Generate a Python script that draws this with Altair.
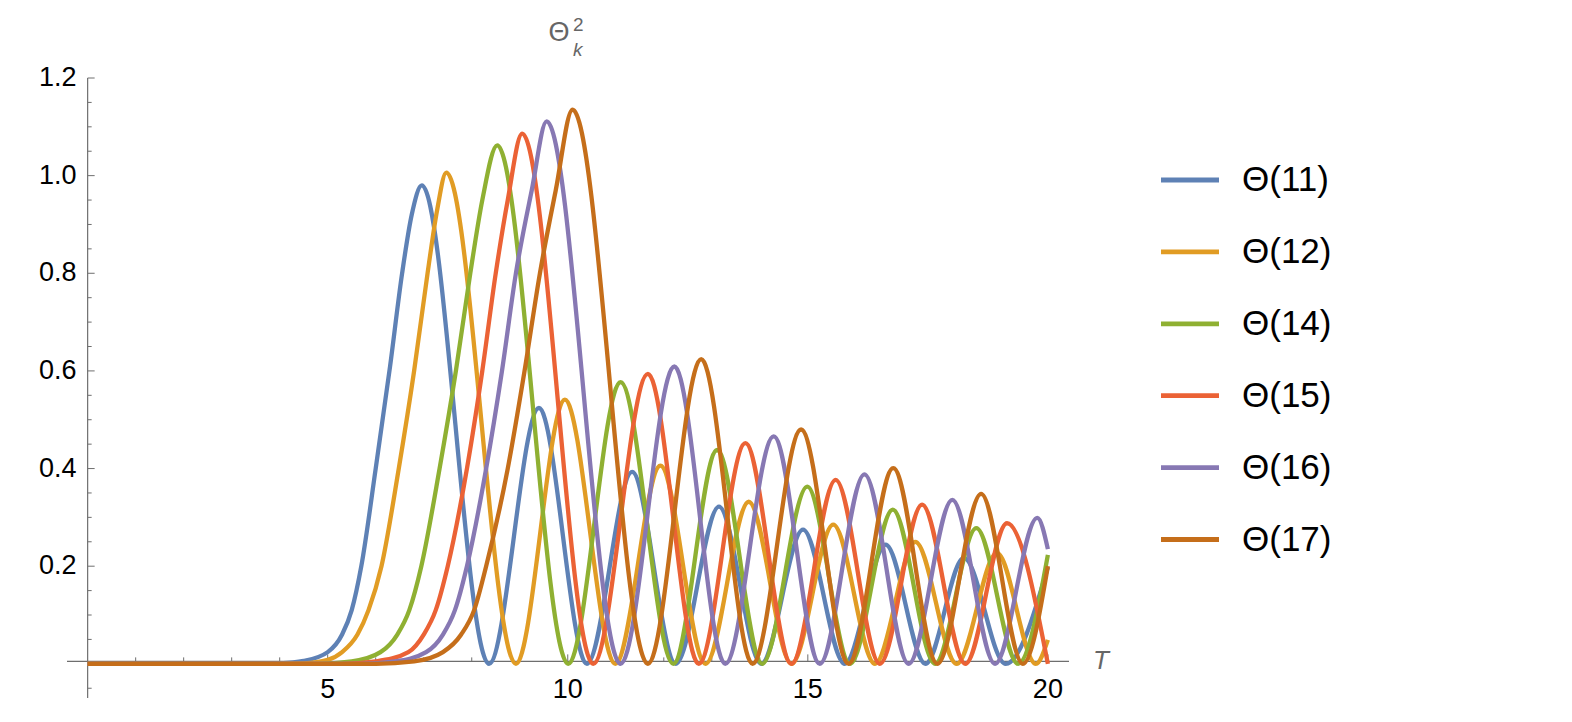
import altair as alt
import pandas as pd

FONT = "Liberation Sans"
AXIS_GRAY = "#6e6e6e"
TITLE_GRAY = "#666666"

NAMES = ["Θ(11)", "Θ(12)", "Θ(14)", "Θ(15)", "Θ(16)", "Θ(17)"]
COLORS = ["#5e81b5", "#e19c24", "#8fb032", "#eb6235", "#8778b3", "#c56e1a"]

# Θ(11)
T11 = [0, 3.5, 4.0, 4.5, 5.0, 5.3, 5.5, 5.7, 6.0, 6.3, 6.55, 6.75, 6.96, 8.36, 9.40, 10.40,
       11.34, 12.25, 13.15, 14.03, 14.90, 15.77, 16.62, 17.45, 18.25, 19.12, 20.0]
V11 = [0, 0, 0.001, 0.006, 0.024, 0.06, 0.11, 0.2, 0.4, 0.61, 0.8, 0.92, 0.98, 0, 0.524, 0,
       0.393, 0, 0.322, 0, 0.275, 0, 0.244, 0, 0.217, 0, 0.198]
# Θ(12)
T12 = [0, 4.0, 4.5, 5.0, 5.3, 5.62, 5.85, 6.12, 6.48, 6.8, 7.08, 7.28, 7.47, 8.92, 9.94,
       10.99, 11.93, 12.87, 13.77, 14.66, 15.53, 16.40, 17.24, 18.10, 18.94, 19.75, 20.0]
V12 = [0, 0, 0.001, 0.008, 0.024, 0.06, 0.11, 0.2, 0.4, 0.6, 0.8, 0.93, 1.006, 0, 0.541,
       0, 0.406, 0, 0.332, 0, 0.285, 0, 0.25, 0, 0.227, 0, 0.049]
# Θ(14)
T14 = [0, 4.8, 5.5, 6.1, 6.45, 6.7, 6.95, 7.33, 7.67, 7.97, 8.22, 8.53, 10.01, 11.10, 12.20,
       13.11, 14.05, 14.99, 15.88, 16.77, 17.65, 18.51, 19.38, 20.0]
V14 = [0, 0, 0.005, 0.024, 0.06, 0.11, 0.2, 0.4, 0.6, 0.8, 0.95, 1.062, 0, 0.577, 0,
       0.438, 0, 0.363, 0, 0.316, 0, 0.278, 0, 0.223]
# Θ(15)
T15 = [0, 5.3, 6.0, 6.68, 7.0, 7.25, 7.5, 7.9, 8.22, 8.5, 8.75, 9.05, 10.53, 11.67, 12.73,
       13.70, 14.66, 15.58, 16.50, 17.38, 18.28, 19.15, 20.0]
V15 = [0, 0, 0.005, 0.024, 0.06, 0.11, 0.2, 0.4, 0.6, 0.8, 0.95, 1.086, 0, 0.594, 0,
       0.452, 0, 0.377, 0, 0.326, 0, 0.288, 0]
# Θ(16)
T16 = [0, 5.7, 6.4, 7.05, 7.4, 7.65, 7.9, 8.3, 8.63, 8.92, 9.25, 9.56, 11.10, 12.22, 13.28,
       14.29, 15.25, 16.18, 17.10, 18.01, 18.90, 19.78, 20.0]
V16 = [0, 0, 0.005, 0.024, 0.06, 0.11, 0.2, 0.4, 0.6, 0.8, 0.97, 1.111, 0, 0.609, 0,
       0.466, 0, 0.388, 0, 0.336, 0, 0.299, 0.235]
# Θ(17)
T17 = [0, 6.0, 6.8, 7.4, 7.78, 8.05, 8.3, 8.75, 9.1, 9.42, 9.75, 10.10, 11.67, 12.78, 13.85,
       14.86, 15.85, 16.78, 17.70, 18.61, 19.48, 20.0]
V17 = [0, 0, 0.005, 0.024, 0.06, 0.11, 0.2, 0.4, 0.6, 0.8, 0.97, 1.135, 0, 0.624, 0,
       0.480, 0, 0.401, 0, 0.348, 0, 0.2]

X_MAJOR = [5, 10, 15, 20]
X_LABELS = ["5", "10", "15", "20"]
X_MINOR = [1, 2, 3, 4, 6, 7, 8, 9, 11, 12, 13, 14, 16, 17, 18, 19]
Y_MAJOR = [0.2, 0.4, 0.6, 0.8, 1.0, 1.2]
Y_LABELS = ["0.2", "0.4", "0.6", "0.8", "1.0", "1.2"]
Y_MINOR = [-0.05, 0.05, 0.1, 0.15, 0.25, 0.3, 0.35, 0.45, 0.5, 0.55, 0.65, 0.7, 0.75,
           0.85, 0.9, 0.95, 1.05, 1.1, 1.15]

rows = []
for name, ts, vs in zip(NAMES, [T11, T12, T14, T15, T16, T17], [V11, V12, V14, V15, V16, V17]):
    for t, v in zip(ts, vs):
        rows.append({"name": name, "T": t, "v": v})
df = pd.DataFrame(rows)

XS = alt.Scale(domain=[-0.43, 20.44], nice=False, zero=False)
YS = alt.Scale(domain=[-0.07, 1.2], nice=False, zero=False)
CS = alt.Scale(domain=NAMES, range=COLORS)
one = pd.DataFrame({"a": [0]})

lines = alt.Chart(df).mark_line(strokeWidth=4.3, interpolate="monotone").encode(
    x=alt.X("T:Q", scale=XS, axis=None),
    y=alt.Y("v:Q", scale=YS, axis=None),
    color=alt.Color("name:N", scale=CS, legend=None),
    order=alt.Order("T:Q"),
)

x_axis = alt.Chart(one).mark_rule(color=AXIS_GRAY, strokeWidth=1.2).encode(
    x=alt.X(datum=-0.43, scale=XS, axis=None),
    x2=alt.X2(datum=20.44),
    y=alt.Y(datum=0.005, scale=YS, axis=None),
)
y_axis = alt.Chart(one).mark_rule(color=AXIS_GRAY, strokeWidth=1.2).encode(
    x=alt.X(datum=0, scale=XS, axis=None),
    y=alt.Y(datum=-0.07, scale=YS, axis=None),
    y2=alt.Y2(datum=1.2),
)

ymaj = pd.DataFrame({"v": Y_MAJOR, "lab": Y_LABELS})
ymin = pd.DataFrame({"v": Y_MINOR})
xmaj = pd.DataFrame({"T": X_MAJOR, "lab": X_LABELS})
xmin = pd.DataFrame({"T": X_MINOR})

y_ticks_major = alt.Chart(ymaj).mark_rule(color=AXIS_GRAY, x2Offset=7).encode(
    x=alt.X(datum=0, scale=XS, axis=None), x2=alt.X2(datum=0),
    y=alt.Y("v:Q", scale=YS, axis=None),
)
y_ticks_minor = alt.Chart(ymin).mark_rule(color=AXIS_GRAY, x2Offset=4).encode(
    x=alt.X(datum=0, scale=XS, axis=None), x2=alt.X2(datum=0),
    y=alt.Y("v:Q", scale=YS, axis=None),
)
y_labels = alt.Chart(ymaj).mark_text(align="right", baseline="middle", dx=-11,
                                     fontSize=27, font=FONT, color="black").encode(
    x=alt.X(datum=0, scale=XS, axis=None),
    y=alt.Y("v:Q", scale=YS, axis=None),
    text="lab:N",
)
x_ticks_major = alt.Chart(xmaj).mark_rule(color=AXIS_GRAY, y2Offset=-7).encode(
    x=alt.X("T:Q", scale=XS, axis=None),
    y=alt.Y(datum=0.005, scale=YS, axis=None), y2=alt.Y2(datum=0.005),
)
x_ticks_minor = alt.Chart(xmin).mark_rule(color=AXIS_GRAY, y2Offset=-4).encode(
    x=alt.X("T:Q", scale=XS, axis=None),
    y=alt.Y(datum=0.005, scale=YS, axis=None), y2=alt.Y2(datum=0.005),
)
x_labels = alt.Chart(xmaj).mark_text(align="center", baseline="alphabetic", dy=34.5,
                                     fontSize=27, font=FONT, color="black").encode(
    x=alt.X("T:Q", scale=XS, axis=None),
    y=alt.Y(datum=0, scale=YS, axis=None),
    text="lab:N",
)
t_label = alt.Chart(one).mark_text(text="T", align="left", baseline="middle", dx=24,
                                   fontSize=26, font=FONT, fontStyle="italic",
                                   color=TITLE_GRAY).encode(
    x=alt.X(datum=20.44, scale=XS, axis=None),
    y=alt.Y(datum=0.005, scale=YS, axis=None),
)

title_theta = alt.Chart(one).mark_text(text="Θ", align="center", baseline="alphabetic",
                                       fontSize=27, font=FONT, color=TITLE_GRAY).encode(
    x=alt.value(492), y=alt.value(-37))
title_sup = alt.Chart(one).mark_text(text="2", align="left", baseline="alphabetic",
                                     fontSize=19, font=FONT, color=TITLE_GRAY).encode(
    x=alt.value(506), y=alt.value(-47))
title_sub = alt.Chart(one).mark_text(text="k", align="left", baseline="alphabetic",
                                     fontSize=19, font=FONT, fontStyle="italic",
                                     color=TITLE_GRAY).encode(
    x=alt.value(506), y=alt.value(-22))

leg_df = pd.DataFrame({"name": NAMES})
LEG_Y = alt.Scale(type="point", domain=NAMES, range=[102, 461.5], padding=0)
leg_lines = alt.Chart(leg_df).mark_rule(strokeWidth=4.8).encode(
    x=alt.value(1094), x2=alt.value(1152),
    y=alt.Y("name:N", scale=LEG_Y, axis=None),
    color=alt.Color("name:N", scale=CS, legend=None),
)
leg_text = alt.Chart(leg_df).mark_text(align="left", baseline="middle", fontSize=35,
                                       font=FONT, color="black").encode(
    x=alt.value(1175),
    y=alt.Y("name:N", scale=LEG_Y, axis=None),
    text="name:N",
)

chart = alt.layer(
    x_axis, y_axis, y_ticks_major, y_ticks_minor, x_ticks_major, x_ticks_minor,
    lines, y_labels, x_labels, t_label, title_theta, title_sup, title_sub,
    leg_lines, leg_text,
).resolve_scale(y="independent").properties(
    width=1002, height=620,
    padding={"left": 59, "top": 70, "right": 495, "bottom": 16},
    autosize=alt.AutoSizeParams(type="none"),
).configure_view(stroke=None)

chart.save("out.html", embed_options={"renderer": "svg", "actions": False})
